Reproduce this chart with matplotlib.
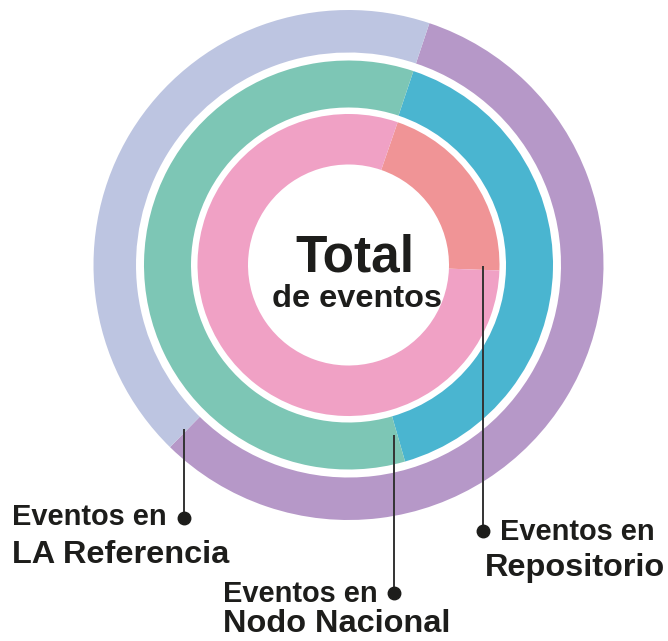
"""Concentric donut: total events split by source (LA Referencia / Nodo Nacional / Repositorio)."""

import matplotlib.pyplot as plt

W, H = 668, 641

# share of each ring (first wedge drawn clockwise from the start angle)
ring_names = ["LA Referencia", "Nodo Nacional", "Repositorio"]
ring_shares = [[57.2, 42.8], [40.4, 59.6], [20.3, 79.7]]
ring_colors = [["#B698C8", "#BDC5E1"], ["#4AB5D0", "#7DC6B5"], ["#F09496", "#F0A1C5"]]
ring_start = [18.5, 18.5, 19.0]          # degrees clockwise from 12 o'clock
ring_radius = [255, 204.5, 151]          # px
ring_width = [42.5, 47, 50.5]            # px

center_title = "Total"
center_sub = "de eventos"
label_top = ["Eventos en", "Eventos en", "Eventos en"]

CX, CY = 348.5, 265
INK = "#1d1d1b"
FONT = "Liberation Sans"


def py(y):
    # image y (down) -> data y (up)
    return H - y


fig = plt.figure(figsize=(W / 100, H / 100), dpi=100)
ax = fig.add_axes([0, 0, 1, 1])

for shares, cols, start, r, w in zip(ring_shares, ring_colors, ring_start, ring_radius, ring_width):
    ax.pie(shares, colors=cols, radius=r, center=(CX, py(CY)), startangle=90 - start,
           counterclock=False, wedgeprops=dict(width=w, linewidth=0), frame=True)

ax.text(355, py(272), center_title, ha="center", va="baseline", fontsize=37,
        fontweight="bold", family=FONT, color=INK)
ax.text(357, py(307), center_sub, ha="center", va="baseline", fontsize=23.4,
        fontweight="bold", family=FONT, color=INK)

# leader lines + dots
leaders = [(183.5, 429, 518), (394, 435, 593), (482.7, 266, 531)]
for x, y0, y1 in leaders:
    ax.plot([x, x], [py(y0), py(y1)], color="#333333", lw=1.4, solid_capstyle="butt", zorder=5)
    ax.plot(x, py(y1), "o", color=INK, markersize=9, zorder=6)

# label text: (x top line, baseline top, x bottom line, baseline bottom)
label_pos = [(12, 525, 12, 563), (223, 602, 223, 632), (500, 540, 485, 576)]
for top, name, (x0, b0, x1, b1) in zip(label_top, ring_names, label_pos):
    ax.text(x0, py(b0), top, ha="left", va="baseline", fontsize=20.9,
            fontweight="bold", family=FONT, color=INK)
    ax.text(x1, py(b1), name, ha="left", va="baseline", fontsize=23.4,
            fontweight="bold", family=FONT, color=INK)

ax.set_xlim(0, W)
ax.set_ylim(0, H)
ax.set_aspect("equal")
ax.axis("off")

plt.savefig("out.png", dpi=100)
